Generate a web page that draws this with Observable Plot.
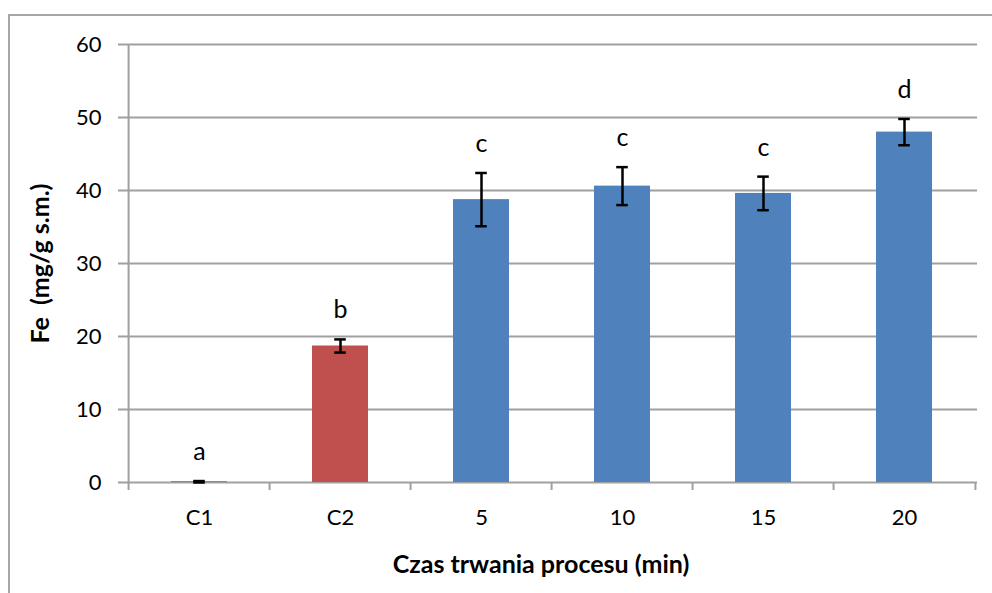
<!DOCTYPE html>
<html>
<head>
<meta charset="utf-8">
<script src="https://cdn.jsdelivr.net/npm/d3@7"></script>
<script src="https://cdn.jsdelivr.net/npm/@observablehq/plot@0.6"></script>
<style>
  html, body { margin: 0; padding: 0; background: #fff; overflow: hidden; }
  #wrap { position: relative; width: 992px; height: 593px; overflow: hidden; font-family: Lato, "Open Sans", sans-serif; }
  #border { position: absolute; left: 8px; top: 14px; width: 1100px; height: 700px; border: 2px solid #a6a6a6; box-sizing: border-box; }
  #chart { position: absolute; left: 0; top: 0; }
</style>
</head>
<body>
<div id="wrap"><div id="border"></div><div id="chart"></div></div>
<script>
// ---- data ----
const categories = ["C1", "C2", "5", "10", "15", "20"];
const groups = ["kontrola", "kontrola", "proces", "proces", "proces", "proces"];
const means = [0.1, 18.7, 38.75, 40.6, 39.6, 48.0];
const errors = [0.1, 0.9, 3.65, 2.6, 2.3, 1.8];
const letters = ["a", "b", "c", "c", "c", "d"];
const yTicks = [0, 10, 20, 30, 40, 50, 60];
const yTitle = "Fe  (mg/g s.m.)";
const xTitle = "Czas trwania procesu (min)";

const rows = categories.map((c, i) => ({cat: c, group: groups[i], mean: means[i], err: errors[i], letter: letters[i]}));

const W = 992, H = 593;
const mL = 126, mR = 15, mT = 44, mB = 111;
const plotW = W - mL - mR, plotH = H - mT - mB;
const step = plotW / categories.length;
const bandW = step * 0.4;
const capW = 12.3;
const grid = "#a0a0a0";
const font = 'Lato, "Open Sans", sans-serif';

const chart = Plot.plot({
  width: W, height: H,
  marginLeft: mL, marginRight: mR, marginTop: mT, marginBottom: mB,
  style: {fontFamily: font, fontSize: "22px", background: "transparent", color: "black"},
  x: {type: "band", domain: categories, paddingInner: 0.6, paddingOuter: 0.3, axis: null},
  y: {domain: [0, 60], axis: null},
  color: {domain: ["kontrola", "proces"], range: ["#C0504D", "#4F81BD"]},
  marks: [
    // gridlines + y ticks
    Plot.ruleY(yTicks, {y: d => d, stroke: grid, strokeWidth: 2, insetLeft: -8}),
    // y axis line (with bottom-left tick)
    Plot.ruleX([categories[0]], {x: d => d, dx: -step / 2, stroke: grid, strokeWidth: 2, insetBottom: -8}),
    // x category boundary ticks
    Plot.ruleX(categories.slice(1), {x: d => d, dx: -step / 2, stroke: grid, strokeWidth: 2, insetTop: plotH, insetBottom: -8}),
    Plot.ruleX([categories[categories.length - 1]], {x: d => d, dx: step / 2, stroke: grid, strokeWidth: 2, insetTop: plotH, insetBottom: -8}),
    // bars
    Plot.barY(rows, {x: "cat", y: "mean", fill: d => d.group}),
    // error bars
    Plot.ruleX(rows, {x: "cat", y1: d => d.mean - d.err, y2: d => d.mean + d.err, stroke: "black", strokeWidth: 2.5}),
    Plot.tickY(rows, {x: "cat", y: d => d.mean + d.err, stroke: "black", strokeWidth: 2.5, insetLeft: (bandW - capW) / 2, insetRight: (bandW - capW) / 2}),
    Plot.tickY(rows, {x: "cat", y: d => d.mean - d.err, stroke: "black", strokeWidth: 2.5, insetLeft: (bandW - capW) / 2, insetRight: (bandW - capW) / 2}),
    // significance letters
    Plot.text(rows, {x: "cat", y: d => d.mean + d.err, text: "letter", dy: -29, lineAnchor: "middle", fill: "black", fontSize: 25}),
    // y tick labels
    Plot.text(yTicks, {y: d => d, text: d => String(d), frameAnchor: "left", dx: -25, textAnchor: "end", lineAnchor: "middle", fill: "black", fontSize: 22}),
    // x tick labels
    Plot.text(categories, {x: d => d, text: d => d, frameAnchor: "bottom", dy: 35, lineAnchor: "middle", fill: "black", fontSize: 22}),
    // axis titles
    Plot.text([xTitle], {text: d => d, frameAnchor: "bottom", dx: -11, dy: 82, textAnchor: "middle", lineAnchor: "middle", fontWeight: "bold", fill: "black", fontSize: 25}),
    Plot.text([yTitle], {text: d => d, frameAnchor: "left", dx: -86, rotate: -90, textAnchor: "middle", lineAnchor: "middle", fontWeight: "bold", fill: "black", fontSize: 25})
  ]
});
document.getElementById("chart").appendChild(chart);
</script>
</body>
</html>
